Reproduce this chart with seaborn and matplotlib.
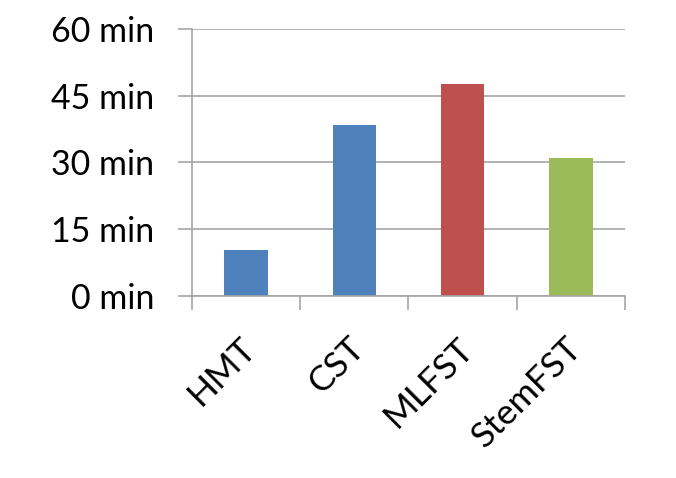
import matplotlib
matplotlib.use("Agg")
import matplotlib.pyplot as plt
import matplotlib.transforms as mtransforms
import seaborn as sns
import pandas as pd

categories = ["HMT", "CST", "MLFST", "StemFST"]
minutes = [10.4, 38.4, 47.7, 31.0]
colors = ["#4F81BD", "#4F81BD", "#C0504D", "#9BBB59"]
yticks = [0, 15, 30, 45, 60]

sns.set_theme(style="white")
plt.rcParams["font.family"] = ["Lato", "DejaVu Sans"]

df = pd.DataFrame({"cat": categories, "val": minutes})

fig = plt.figure(figsize=(6.76, 4.78), dpi=100)
ax = fig.add_axes([0.2836, 0.3814, 0.9246 - 0.2836, 0.9387 - 0.3814])
sns.barplot(data=df, x="cat", y="val", hue="cat", palette=colors, width=0.4,
            legend=False, ax=ax, saturation=1, edgecolor="none")

ax.set_ylim(0, 60)
ax.set_xlim(-0.5, 3.5)
ax.set_yticks(yticks)
ax.set_yticklabels([f"{v} min" for v in yticks], fontsize=24.5)
ax.yaxis.grid(True, color="#A6A6A6", linewidth=1.2)
ax.set_axisbelow(True)
ax.set_xlabel("")
ax.set_ylabel("")

for s in ["top", "right"]:
    ax.spines[s].set_visible(False)
for s in ["left", "bottom"]:
    ax.spines[s].set_color("#A6A6A6")
    ax.spines[s].set_linewidth(1.2)

ax.tick_params(axis="y", left=True, length=10, width=1.2, color="#A6A6A6", pad=17, labelcolor="black")
ax.set_xticks(range(len(categories)))
ax.set_xticklabels(categories, fontsize=25.5, rotation=45, ha="right", rotation_mode="anchor")
ax.tick_params(axis="x", which="major", bottom=False, length=0, pad=26, labelcolor="black")
ax.set_xticks([-0.5, 0.5, 1.5, 2.5, 3.5], minor=True)
ax.tick_params(axis="x", which="minor", bottom=True, length=10, width=1.2, color="#A6A6A6")

offset = mtransforms.ScaledTranslation(-6 / 100, 0, fig.dpi_scale_trans)
for lab in ax.get_xticklabels():
    lab.set_transform(lab.get_transform() + offset)

fig.savefig("out.png", dpi=100)
